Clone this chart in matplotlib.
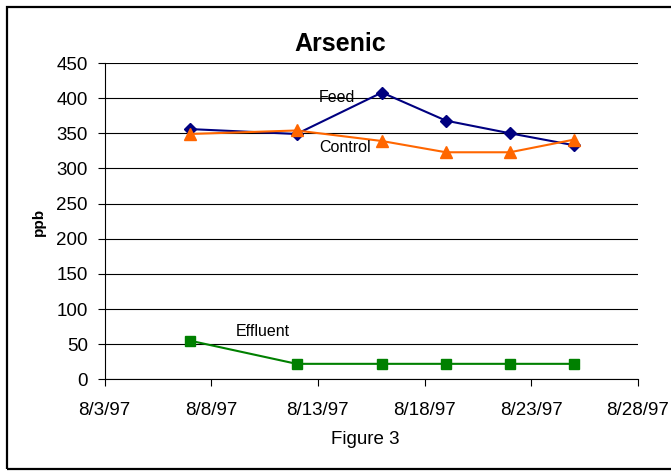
import datetime as dt
import matplotlib
matplotlib.use("Agg")
import matplotlib.pyplot as plt
import matplotlib.dates as mdates
from matplotlib.patches import Rectangle
from matplotlib.ticker import FuncFormatter

plt.rcParams['font.family'] = ['Liberation Sans', 'DejaVu Sans']

# data
dates = [dt.date(1997, 8, 7), dt.date(1997, 8, 12), dt.date(1997, 8, 16),
         dt.date(1997, 8, 19), dt.date(1997, 8, 22), dt.date(1997, 8, 25)]
feed = [356, 349, 408, 368, 350, 333]
control = [349, 354, 339, 323, 323, 341]
effluent = [55, 22, 22, 22, 22, 22]

tick_dates = [dt.date(1997, 8, 3) + dt.timedelta(days=5 * i) for i in range(6)]
y_ticks = list(range(0, 451, 50))

W, H = 671, 472
fig = plt.figure(figsize=(W / 100, H / 100), dpi=100)
ax = fig.add_axes([104.5 / W, 1 - 379.3 / H, (638 - 104.5) / W, (379.3 - 63) / H])

ax.plot(dates, feed, color='#000080', lw=1.5, marker='D', ms=5.8, zorder=3)
ax.plot(dates, control, color='#FF6600', lw=1.5, marker='^', ms=8.5, zorder=3)
ax.plot(dates, effluent, color='#008000', lw=1.5, marker='s', ms=6.5, zorder=3)

ax.set_xlim(mdates.date2num(tick_dates[0]), mdates.date2num(tick_dates[-1]))
ax.set_xticks([mdates.date2num(d) for d in tick_dates])
ax.xaxis.set_major_formatter(FuncFormatter(
    lambda v, p: (lambda d: f"{d.month}/{d.day}/{d:%y}")(mdates.num2date(v))))
ax.set_ylim(0, 450)
ax.set_yticks(y_ticks)

ax.grid(axis='y', color='black', lw=0.8)
ax.set_axisbelow(True)
for s in ['top', 'right']:
    ax.spines[s].set_visible(False)
for s in ['left', 'bottom']:
    ax.spines[s].set_linewidth(0.8)
ax.tick_params(axis='both', direction='out', length=5, width=0.8, labelsize=13.5)
ax.tick_params(axis='y', pad=7)
ax.tick_params(axis='x', pad=11)

fig.text(340 / W, 1 - 44 / H, 'Arsenic', ha='center', va='center',
         fontsize=18, fontweight='bold')
fig.text(39 / W, 1 - 222 / H, 'ppb', ha='center', va='center', rotation=90,
         fontsize=11, fontweight='bold')
fig.text(365 / W, 1 - 440 / H, 'Figure 3', ha='center', va='center', fontsize=13.5)

fig.text(319 / W, 1 - 97 / H, 'Feed', ha='left', va='center', fontsize=11.5)
fig.text(319 / W, 1 - 148 / H, 'Control', ha='left', va='center', fontsize=11.5)
fig.text(236 / W, 1 - 332 / H, 'Effluent', ha='left', va='center', fontsize=11.5)

fig.patches.append(Rectangle((7 / W, 1 - 469 / H), (690 - 7) / W, (469 - 7) / H,
                             transform=fig.transFigure, fill=False,
                             edgecolor='black', lw=1.6))

fig.savefig('out.png', dpi=100)
